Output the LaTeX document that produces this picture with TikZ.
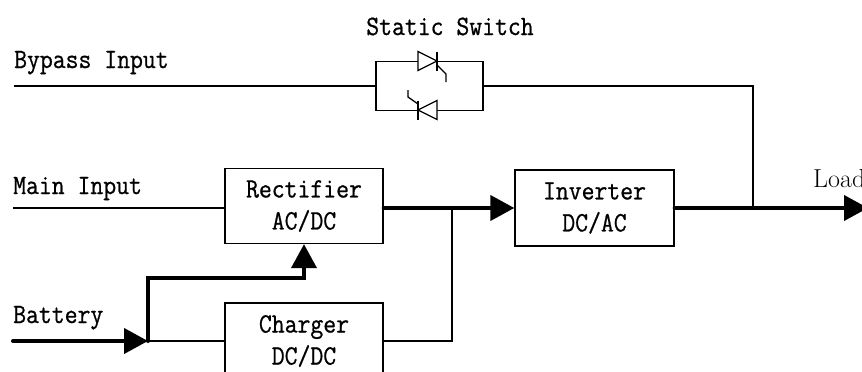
\documentclass[tikz,border=0pt]{standalone}
\usepackage{fontspec}
\usetikzlibrary{arrows.meta}
\newfontfamily\lblfam{Latin Modern Mono}[FakeBold=0.8]
\newfontfamily\loadfam{Latin Modern Roman}
\newcommand\lblfont{\lblfam\fontsize{25}{32}\selectfont}
\newcommand\loadfont{\loadfam\fontsize{26}{32}\selectfont}
\newcommand\tall[1]{\scalebox{1}[1.12]{#1}}
\begin{document}
\begin{tikzpicture}[x=1pt,y=-1pt,
  wire/.style={line width=1.3pt},
  bus/.style={line width=4pt, line cap=round},
  bigtip/.style={-{Triangle[length=24pt,width=25pt]}},
  block/.style={draw, line width=1.3pt, minimum width=158pt, minimum height=75pt,
    inner sep=0pt, align=center, font=\lblfont},
  lbl/.style={font=\lblfont, inner sep=0pt, anchor=base west}
]
\useasboundingbox (0,0) rectangle (862,372);

% blocks
\node[block] (rect) at (304,206) {\tall{Rectifier}\\\tall{AC/DC}};
\node[block, minimum height=76pt] (chg) at (304,341) {\tall{Charger}\\\tall{DC/DC}};
\node[block, minimum width=159pt, minimum height=76pt] (inv) at (594.5,208) {\tall{Inverter}\\\tall{DC/AC}};
\node[draw, wire, minimum width=107pt, minimum height=49pt, inner sep=0pt] (sw) at (429.5,86) {};

% labels
\node[lbl, anchor=base] (tss) at (450,35) {\tall{Static Switch}};
\node[lbl] (tbyp) at (14,68) {\tall{Bypass Input}};
\node[lbl] (tmain) at (13,194) {\tall{Main Input}};
\node[lbl] (tbat) at (13,323) {\tall{Battery}};
\node[inner sep=0pt, anchor=base west] (tload) at (813,187) {\loadfont Load};

% coordinates
\coordinate (bypin) at (14,86);
\coordinate (mainin) at (13,208);
\coordinate (batin) at (13,341);
\coordinate (bj) at (148,341);
\coordinate (bk) at (148,278);
\coordinate (jc) at (452,208);
\coordinate (bt) at (753,208);
\coordinate (loadend) at (868,208);

% connectors
\draw[wire] (bypin) -- (sw.west);
\draw[wire] (sw.east) -| (bt);
\draw[wire] (mainin) -- (mainin -| rect.west);
\draw[bus, bigtip] (rect.east |- jc) -- (inv.west);
\draw[wire] (chg.east) -| (jc);
\draw[bus, bigtip] (batin) -- (bj);
\draw[wire] (bj) -- (chg.west);
\draw[bus, bigtip, line join=miter] (bj) -- (bk) -| (rect.south);
\draw[bus, bigtip] (inv.east) -- (loadend);

% thyristors
\draw[wire, fill=white] (418,51.5) -- (437,61) -- (418,70.5) -- cycle;
\draw[wire] (437,51.5) -- (437,70.5);
\draw[wire] (437,65) -- (446,74) -- (446,82);
\draw[wire, fill=white] (437,100.5) -- (418,110) -- (437,119.5) -- cycle;
\draw[wire] (418,100.5) -- (418,119.5);
\draw[wire] (408,90) -- (408,97) -- (418,104);
\end{tikzpicture}
\end{document}
